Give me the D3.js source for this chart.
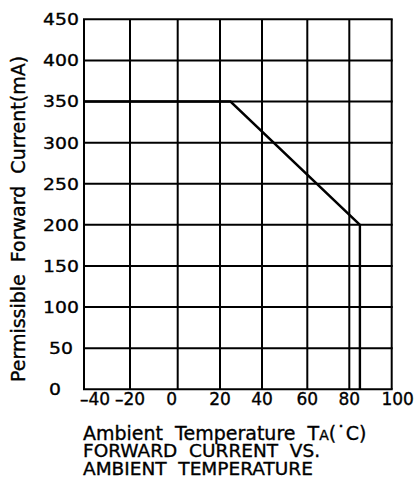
<!DOCTYPE html>
<html><head><meta charset="utf-8">
<script src="https://cdn.jsdelivr.net/npm/d3@7"></script>
<style>body{margin:0;background:#fff}svg{display:block}text{font-family:"DejaVu Sans",sans-serif;fill:#000;stroke:#000;stroke-width:0.35px}</style>
</head><body><svg id="c" width="420" height="482"></svg>
<script>
// ---- data ----
const xTicks = [-40, -20, 0, 20, 40, 60, 80, 100];
const yTicks = [0, 50, 100, 150, 200, 250, 300, 350, 400, 450];
const tempC = [-40, 25, 85, 85];          // ambient temperature (°C)
const currentMA = [350, 350, 200, 0];     // permissible forward current (mA)
const yTitle = "Permissible  Forward  Current(mA)";
const xTitleMain = "Ambient  Temperature  T";
const xTitleSub = "A";
const xTitleEnd = "(\u02D9C)";
const captionLines = ["FORWARD  CURRENT  VS.", "AMBIENT  TEMPERATURE"];

// ---- layout ----
const svg = d3.select("#c");
const x = d3.scaleLinear().domain(xTicks).range([84, 130, 177.7, 220, 262, 307.3, 349.3, 391.7]);
const y = d3.scaleLinear().domain([0, 450]).range([389.3, 19.3]);
const xNudge = {"-40": 11, "0": -6, "100": 6};

const g = svg.append("g");
// grid
g.selectAll(".vg").data(xTicks).join("line")
  .attr("x1", d => x(d)).attr("x2", d => x(d))
  .attr("y1", y(0)).attr("y2", y(450))
  .attr("stroke", "#000").attr("stroke-width", 2);
g.selectAll(".hg").data(yTicks).join("line")
  .attr("y1", d => y(d)).attr("y2", d => y(d))
  .attr("x1", x(-40) - 1).attr("x2", x(100) + 1)
  .attr("stroke", "#000").attr("stroke-width", 2);

// curve
const pts = tempC.map((t, i) => [t, currentMA[i]]);
g.append("path")
  .attr("d", d3.line().x(d => x(d[0])).y(d => y(d[1]))(pts))
  .attr("fill", "none").attr("stroke", "#000").attr("stroke-width", 2.4)
  .attr("stroke-linejoin", "miter");

// y tick labels
g.selectAll(".yl").data(yTicks).join("text")
  .attr("transform", d => `translate(${String(d).length === 3 ? 43 : 49},${y(d)}) scale(1.14,1)`)
  .attr("dy", "0.36em")
  .attr("font-size", 16.5)
  .text(d => d);

// x tick labels
g.selectAll(".xl").data(xTicks).join("text")
  .attr("x", d => x(d) + (xNudge[d] || 0))
  .attr("y", y(0) + 16)
  .attr("text-anchor", "middle")
  .attr("font-size", 17)
  .text(d => (d < 0 ? "\u2013" : "") + Math.abs(d));

// y title
svg.append("text")
  .attr("transform", `translate(25,219) rotate(-90)`)
  .attr("text-anchor", "middle")
  .attr("font-size", 19)
  .style("white-space", "pre")
  .text(yTitle);

// x title
const xt = svg.append("text").attr("x", 83).attr("y", 440).attr("font-size", 19).style("white-space", "pre");
xt.append("tspan").text(xTitleMain);
xt.append("tspan").attr("font-size", 14).text(xTitleSub);
xt.append("tspan").text(xTitleEnd);

svg.selectAll(".cap").data(captionLines).join("text")
  .attr("x", 83).attr("y", (d, i) => 457 + i * 18)
  .attr("font-size", 18.5).style("white-space", "pre")
  .text(d => d);
</script></body></html>
